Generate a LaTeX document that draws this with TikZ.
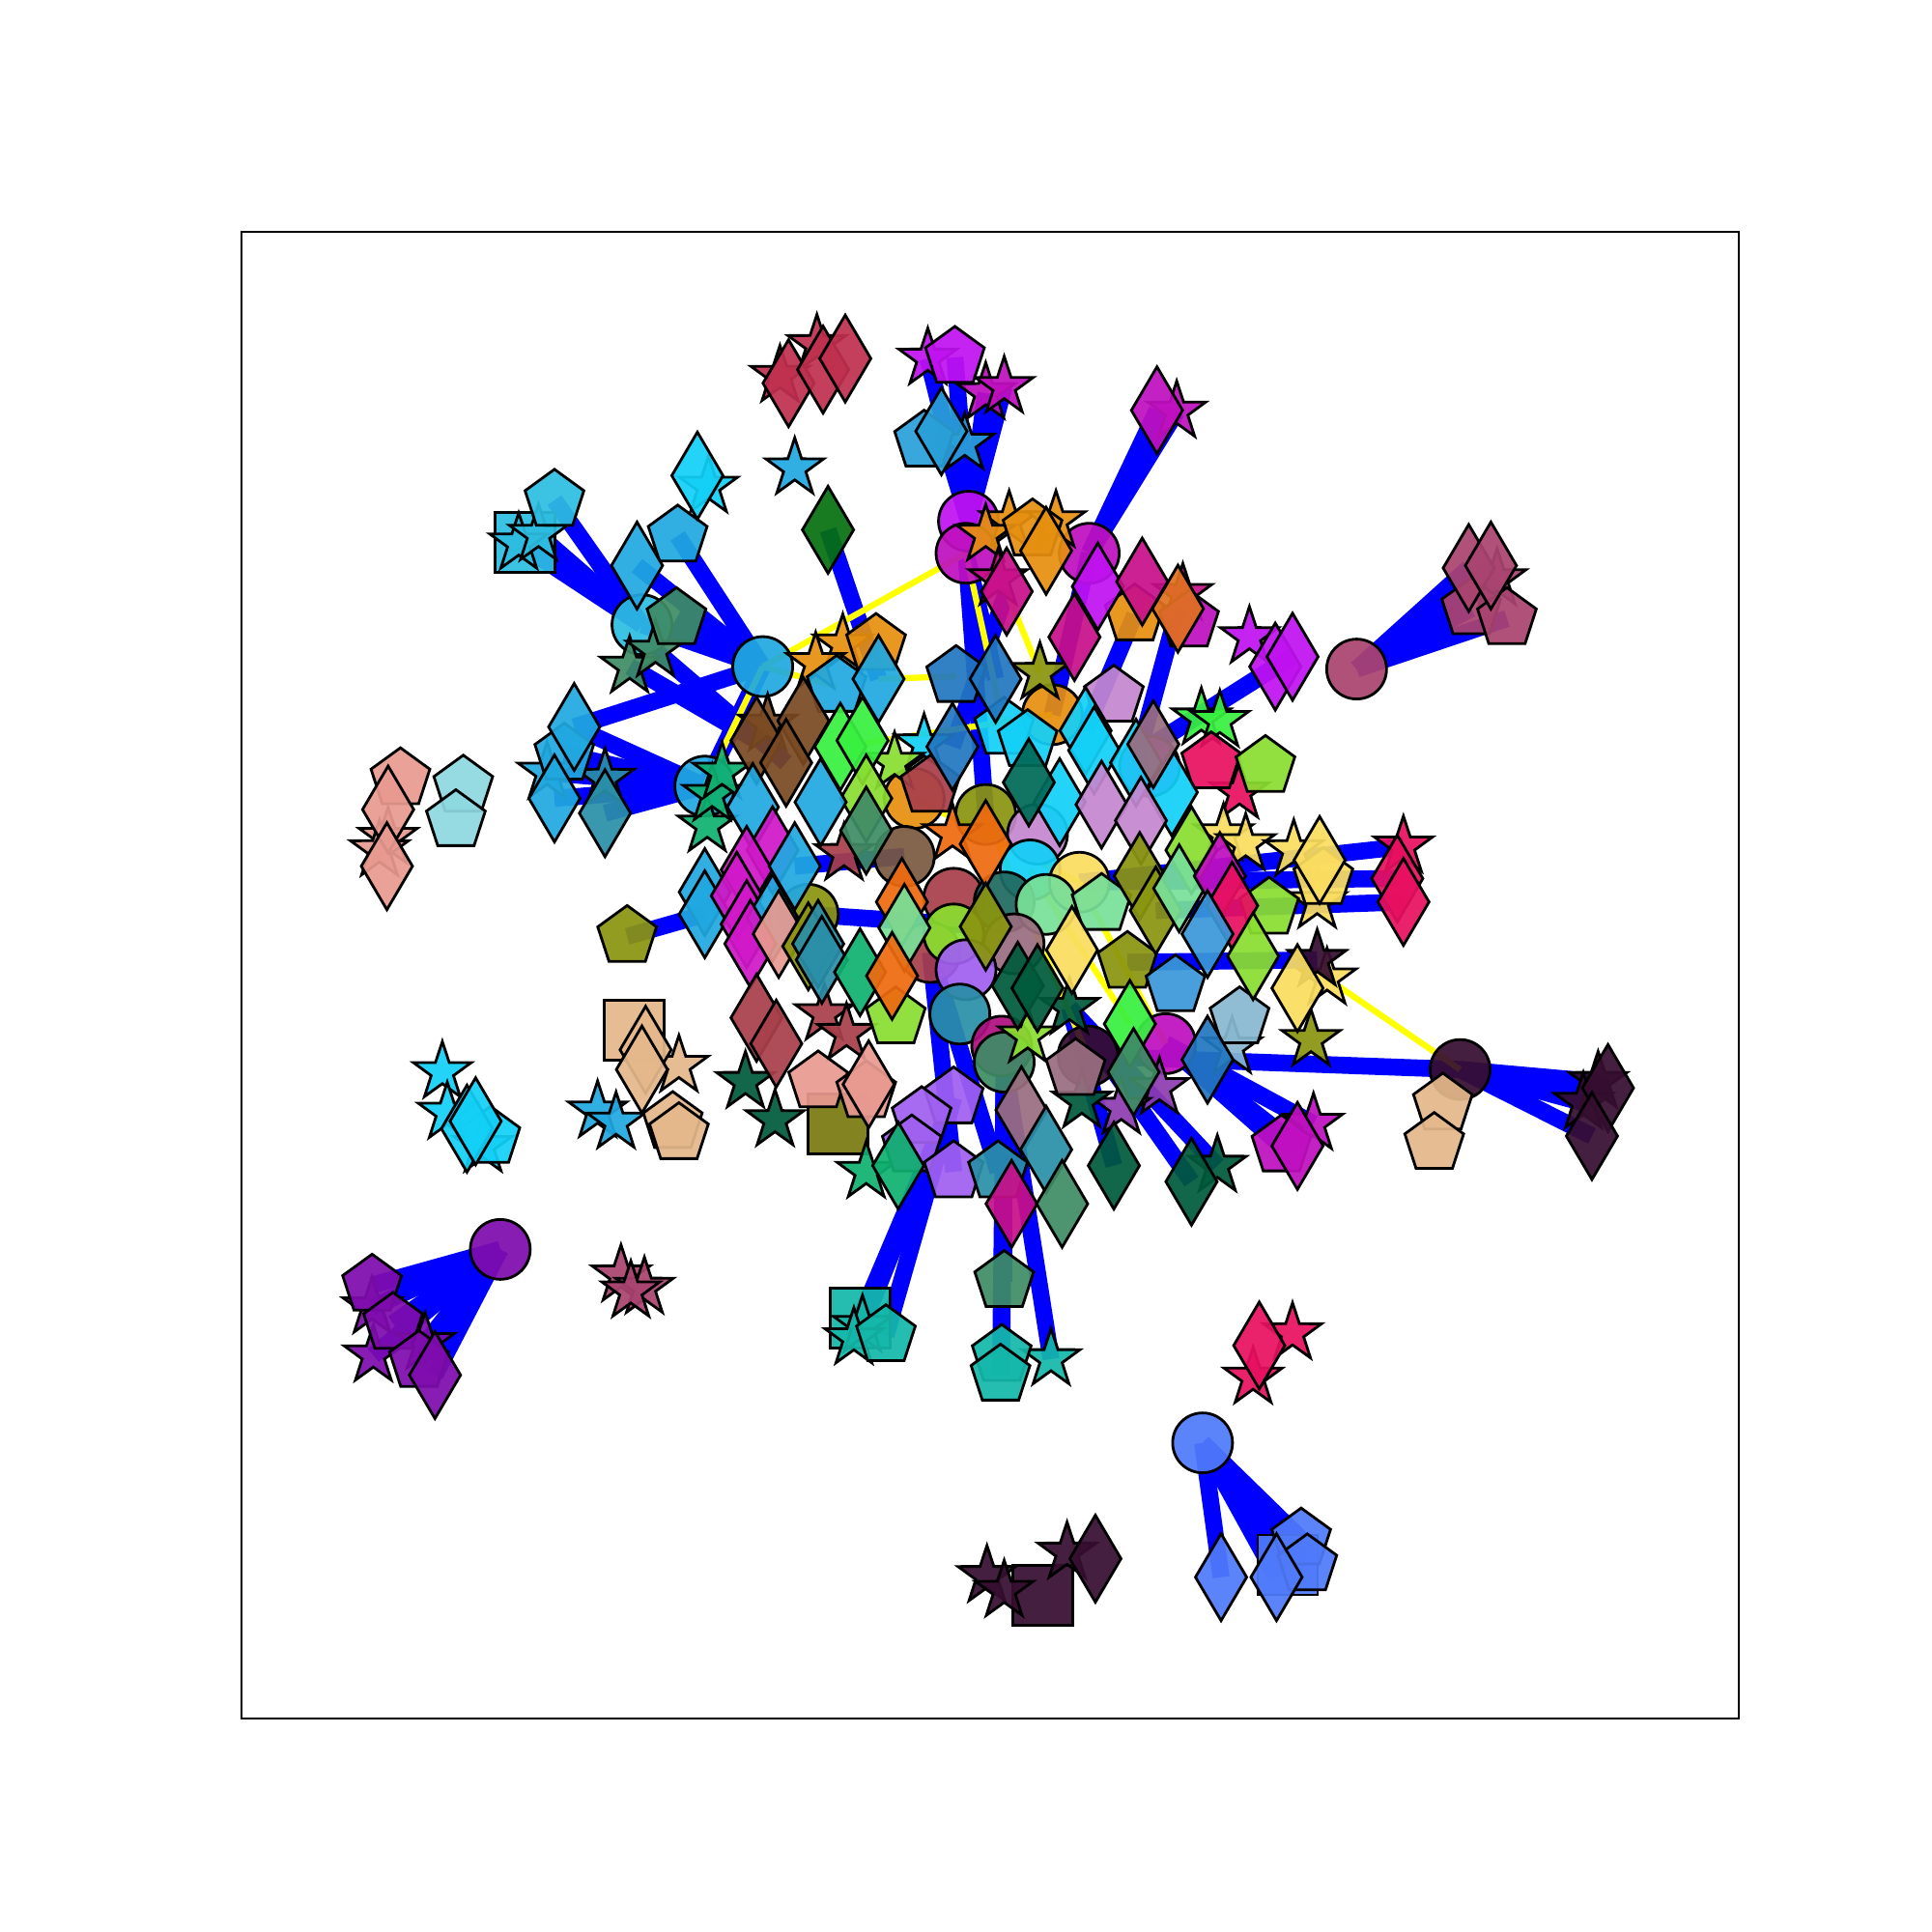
\documentclass[tikz,border=0pt]{standalone}
\usepackage{tikz}
\usetikzlibrary{shapes.geometric}
\definecolor{skyb}{HTML}{21A8E0}
\definecolor{cyanb}{HTML}{2DBDE0}
\definecolor{brcyan}{HTML}{13D0F7}
\definecolor{crim}{HTML}{C0304F}
\definecolor{violt}{HTML}{C012F0}
\definecolor{magt}{HTML}{C010C0}
\definecolor{magt2}{HTML}{D018C8}
\definecolor{dpink}{HTML}{C8108A}
\definecolor{dpink2}{HTML}{B01080}
\definecolor{orng}{HTML}{E69010}
\definecolor{orng2}{HTML}{E07020}
\definecolor{orred}{HTML}{EE6A10}
\definecolor{steelb}{HTML}{2277C0}
\definecolor{steel2}{HTML}{2AA0D8}
\definecolor{olv}{HTML}{8A9510}
\definecolor{olvdk}{HTML}{7A7A10}
\definecolor{lilac}{HTML}{C488D0}
\definecolor{mauve}{HTML}{9A6E80}
\definecolor{lgrn}{HTML}{38F040}
\definecolor{ygrn}{HTML}{8ADE30}
\definecolor{crred}{HTML}{E81060}
\definecolor{yelw}{HTML}{FADD60}
\definecolor{dkpur}{HTML}{360E30}
\definecolor{tanc}{HTML}{E4B88A}
\definecolor{salm}{HTML}{E89A90}
\definecolor{lcyan}{HTML}{8ED8E0}
\definecolor{tealb}{HTML}{2A8FA8}
\definecolor{jade}{HTML}{10B070}
\definecolor{dkgrn}{HTML}{005A3C}
\definecolor{dkgrn2}{HTML}{067010}
\definecolor{brick}{HTML}{A8404A}
\definecolor{brwn}{HTML}{7A4A22}
\definecolor{brwnc}{HTML}{7A5A40}
\definecolor{seagr}{HTML}{3F8C66}
\definecolor{mint}{HTML}{78E098}
\definecolor{purp}{HTML}{7F0CAE}
\definecolor{purp2}{HTML}{8E3CB0}
\definecolor{marn}{HTML}{AA4470}
\definecolor{royal}{HTML}{4F7AFA}
\definecolor{tealg}{HTML}{14B8AA}
\definecolor{dkteal}{HTML}{206A60}
\definecolor{dkteal2}{HTML}{006A58}
\definecolor{lavnd}{HTML}{A060F0}
\definecolor{lsteel}{HTML}{88B8D0}
\definecolor{blue2}{HTML}{3A98D8}
\definecolor{edgeblue}{HTML}{0000FF}
\definecolor{edgeyel}{HTML}{FFFF00}
\pgfdeclarelayer{edges}
\pgfsetlayers{edges,main}

\begin{document}
\begin{tikzpicture}[x=0.012755cm, y=-0.012755cm,
  nd/.style={draw=black, line width=0.8pt, fill opacity=0.93, inner sep=0pt, outer sep=0pt},
  circ/.style={nd, circle, minimum size=0.62cm},
  sqr/.style={nd, rectangle, minimum size=0.62cm},
  stn/.style={nd, star, star points=5, star point ratio=2.6, minimum size=0.63cm},
  pent/.style={nd, regular polygon, regular polygon sides=5, minimum size=0.64cm},
  dia/.style={nd, diamond, minimum width=0.53cm, minimum height=0.9cm},
  bl/.style={edgeblue, line width=5pt},
  yl/.style={edgeyel, line width=1.8pt}]
  \useasboundingbox (0,0) rectangle (1568,1568);
  \draw[line width=0.5pt] (196,188) rectangle (1411,1395);

  % circles
  \node[circ, fill=skyb] (hubsky) at (619,541) {};
  \node[circ, fill=cyanb] (hubcy) at (521,507) {};
  \node[circ, fill=skyb] (hubsk2) at (572,638) {};
  \node[circ, fill=violt] (cv1) at (786,423) {};
  \node[circ, fill=magt] (cm1) at (784,449) {};
  \node[circ, fill=magt] (cm2) at (884,449) {};
  \node[circ, fill=marn] (hubmar) at (1101,543) {};
  \node[circ, fill=purp] (hubpur) at (406,1014) {};
  \node[circ, fill=dkpur] (hubdp) at (1185,868) {};
  \node[circ, fill=royal] (hubroy) at (976,1171) {};
  \node[circ, fill=orng] (co1) at (742,648) {};
  \node[circ, fill=orng] (co2) at (854,580) {};
  \node[circ, fill=olv] (col1) at (800,661) {};
  \node[circ, fill=olv] (col2) at (656,742) {};
  \node[circ, fill=brwnc] (cbr1) at (734,695) {};
  \node[circ, fill=lilac] (cli1) at (842,677) {};
  \node[circ, fill=brcyan] (ccy1) at (836,706) {};
  \node[circ, fill=yelw] (cye1) at (876,716) {};
  \node[circ, fill=brick] (cbk1) at (774,729) {};
  \node[circ, fill=dkteal] (cdt1) at (815,732) {};
  \node[circ, fill=mint] (cmi1) at (849,734) {};
  \node[circ, fill=brick] (cbk2) at (755,773) {};
  \node[circ, fill=ygrn] (cyg1) at (774,758) {};
  \node[circ, fill=mauve] (cma1) at (823,766) {};
  \node[circ, fill=lavnd] (clv1) at (784,787) {};
  \node[circ, fill=tealb] (ctl1) at (779,823) {};
  \node[circ, fill=dpink2] (cdp1) at (813,849) {};
  \node[circ, fill=seagr] (csg1) at (815,862) {};
  \node[circ, fill=dkpur] (cdp2) at (883,857) {};
  \node[circ, fill=magt] (cmg1) at (946,847) {};
  \node[circ, fill=violt] (cmg2) at (933,622) {};

  % squares
  \node[sqr, fill=cyanb] (sq1) at (426,440) {};
  \node[sqr, fill=tanc] (sq2) at (515,836) {};
  \node[sqr, fill=tealg] (sq3) at (698,1070) {};
  \node[sqr, fill=dkpur] (sq4) at (846,1295) {};
  \node[sqr, fill=royal] (sq5) at (1045,1270) {};
  \node[sqr, fill=olvdk] (sq6) at (680,912) {};

  % stars
  \node[stn, fill=cyanb] (st1) at (421,441) {};
  \node[stn, fill=cyanb] (st2) at (437,434) {};
  \node[stn, fill=brcyan] (st3) at (575,395) {};
  \node[stn, fill=skyb] (st4) at (645,380) {};
  \node[stn, fill=seagr] (st5) at (511,541) {};
  \node[stn, fill=seagr] (st6) at (532,528) {};
  \node[stn, fill=skyb] (st7) at (444,627) {};
  \node[stn, fill=tealb] (st8) at (491,632) {};
  \node[stn, fill=jade] (sj1) at (574,670) {};
  \node[stn, fill=jade] (sj2) at (578,645) {};
  \node[stn, fill=jade] (sj3) at (586,627) {};
  \node[stn, fill=salm] (ss1) at (315,680) {};
  \node[stn, fill=salm] (ss2) at (308,690) {};
  \node[stn, fill=brcyan] (sc1) at (359,870) {};
  \node[stn, fill=brcyan] (sc2) at (363,903) {};
  \node[stn, fill=brcyan] (sc3) at (392,930) {};
  \node[stn, fill=tanc] (stn1) at (551,865) {};
  \node[stn, fill=skyb] (sb1) at (485,902) {};
  \node[stn, fill=skyb] (sb2) at (500,911) {};
  \node[stn, fill=purp] (sp1) at (302,1061) {};
  \node[stn, fill=purp] (sp2) at (303,1100) {};
  \node[stn, fill=purp] (sp3) at (345,1090) {};
  \node[stn, fill=marn] (smr1) at (504,1035) {};
  \node[stn, fill=marn] (smr2) at (523,1045) {};
  \node[stn, fill=marn] (smr3) at (512,1048) {};
  \node[stn, fill=marn] (smr4) at (1215,470) {};
  \node[stn, fill=crim] (scr1) at (633,305) {};
  \node[stn, fill=crim] (scr2) at (663,280) {};
  \node[stn, fill=violt] (sv1) at (753,291) {};
  \node[stn, fill=magt] (sm1) at (800,319) {};
  \node[stn, fill=magt] (sm2) at (815,314) {};
  \node[stn, fill=steel2] (sst1) at (783,360) {};
  \node[stn, fill=orng] (so1) at (819,423) {};
  \node[stn, fill=orng] (so2) at (857,423) {};
  \node[stn, fill=orng] (so3) at (800,434) {};
  \node[stn, fill=dpink] (sdp1) at (810,470) {};
  \node[stn, fill=dpink] (sdp2) at (960,482) {};
  \node[stn, fill=magt] (sm3) at (955,334) {};
  \node[stn, fill=violt] (sv2) at (1014,517) {};
  \node[stn, fill=orng] (so4) at (684,523) {};
  \node[stn, fill=orng] (so5) at (662,538) {};
  \node[stn, fill=olv] (sol1) at (844,546) {};
  \node[stn, fill=brcyan] (sbc1) at (750,604) {};
  \node[stn, fill=ygrn] (syg1) at (726,619) {};
  \node[stn, fill=orred] (sor1) at (773,677) {};
  \node[stn, fill=brick] (sbr1) at (685,693) {};
  \node[stn, fill=brwn] (sbr2) at (623,588) {};
  \node[stn, fill=lgrn] (slg1) at (975,583) {};
  \node[stn, fill=lgrn] (slg2) at (990,585) {};
  \node[stn, fill=crred] (scr3) at (1006,643) {};
  \node[stn, fill=yelw] (sy1) at (993,677) {};
  \node[stn, fill=yelw] (sy2) at (1011,685) {};
  \node[stn, fill=yelw] (sy3) at (1050,690) {};
  \node[stn, fill=yelw] (sy4) at (1069,732) {};
  \node[stn, fill=yelw] (sy5) at (1077,794) {};
  \node[stn, fill=crred] (scr5) at (1139,687) {};
  \node[stn, fill=dkpur] (sdp3) at (1069,779) {};
  \node[stn, fill=olv] (sol2) at (1064,844) {};
  \node[stn, fill=lsteel] (sls1) at (1000,850) {};
  \node[stn, fill=magt] (sm4) at (1066,912) {};
  \node[stn, fill=dkpur] (sdk1) at (1297,878) {};
  \node[stn, fill=dkpur] (sdk2) at (1285,895) {};
  \node[stn, fill=dkgrn] (sdg1) at (868,818) {};
  \node[stn, fill=ygrn] (syg2) at (834,841) {};
  \node[stn, fill=purp2] (spu1) at (941,883) {};
  \node[stn, fill=purp2] (spu2) at (910,899) {};
  \node[stn, fill=brick] (sbk1) at (669,823) {};
  \node[stn, fill=brick] (sbk2) at (687,839) {};
  \node[stn, fill=dkgrn] (sdg2) at (878,894) {};
  \node[stn, fill=jade] (sjd1) at (703,951) {};
  \node[stn, fill=dkgrn] (sdg3) at (988,946) {};
  \node[stn, fill=dkgrn] (sdg5) at (605,878) {};
  \node[stn, fill=dkgrn] (sdg6) at (629,909) {};
  \node[stn, fill=tealg] (stg1) at (700,1076) {};
  \node[stn, fill=tealg] (stg2) at (693,1086) {};
  \node[stn, fill=tealg] (stg3) at (853,1103) {};
  \node[stn, fill=dkpur] (sdk3) at (801,1279) {};
  \node[stn, fill=dkpur] (sdk4) at (815,1291) {};
  \node[stn, fill=dkpur] (sdk5) at (866,1260) {};
  \node[stn, fill=crred] (scr6) at (1049,1082) {};
  \node[stn, fill=crred] (scr7) at (1017,1118) {};

  % pentagons
  \node[pent, fill=cyanb] (pe1) at (450,406) {};
  \node[pent, fill=skyb] (pe2) at (550,435) {};
  \node[pent, fill=seagr] (pe3) at (549,502) {};
  \node[pent, fill=skyb] (pe4) at (458,612) {};
  \node[pent, fill=salm] (pe5) at (325,632) {};
  \node[pent, fill=lcyan] (pe6) at (376,638) {};
  \node[pent, fill=lcyan] (pe7) at (370,666) {};
  \node[pent, fill=brcyan] (pe8) at (398,923) {};
  \node[pent, fill=tanc] (pe9) at (546,911) {};
  \node[pent, fill=tanc] (pe10) at (551,920) {};
  \node[pent, fill=olv] (pe11) at (509,760) {};
  \node[pent, fill=purp] (pe12) at (302,1043) {};
  \node[pent, fill=purp] (pe13) at (319,1074) {};
  \node[pent, fill=purp] (pe14) at (340,1105) {};
  \node[pent, fill=violt] (pv1) at (775,290) {};
  \node[pent, fill=steel2] (pst1) at (750,358) {};
  \node[pent, fill=orng] (po1) at (838,430) {};
  \node[pent, fill=orng] (po2) at (921,499) {};
  \node[pent, fill=magt] (pm1) at (965,504) {};
  \node[pent, fill=marn] (pmr1) at (1194,494) {};
  \node[pent, fill=marn] (pmr2) at (1223,502) {};
  \node[pent, fill=orng] (po3) at (711,523) {};
  \node[pent, fill=skyb] (psk1) at (679,557) {};
  \node[pent, fill=steelb] (psb1) at (776,549) {};
  \node[pent, fill=lilac] (pli1) at (904,565) {};
  \node[pent, fill=brcyan] (pcy1) at (815,591) {};
  \node[pent, fill=brcyan] (pcy2) at (834,601) {};
  \node[pent, fill=crred] (pcr1) at (983,619) {};
  \node[pent, fill=ygrn] (pyg1) at (1027,622) {};
  \node[pent, fill=brick] (pbk1) at (755,638) {};
  \node[pent, fill=mint] (pmi1) at (894,734) {};
  \node[pent, fill=olv] (pol1) at (915,781) {};
  \node[pent, fill=blue2] (pbl1) at (954,800) {};
  \node[pent, fill=yelw] (pye1) at (1074,713) {};
  \node[pent, fill=ygrn] (pyg2) at (1030,737) {};
  \node[pent, fill=lsteel] (pls1) at (1006,826) {};
  \node[pent, fill=mauve] (pma1) at (873,868) {};
  \node[pent, fill=ygrn] (pyg3) at (727,826) {};
  \node[pent, fill=salm] (psa1) at (664,878) {};
  \node[pent, fill=salm] (psa2) at (703,886) {};
  \node[pent, fill=lavnd] (plv1) at (774,891) {};
  \node[pent, fill=lavnd] (plv2) at (748,907) {};
  \node[pent, fill=lavnd] (plv4) at (740,930) {};
  \node[pent, fill=lavnd] (plv3) at (774,951) {};
  \node[pent, fill=tealb] (ptl1) at (810,951) {};
  \node[pent, fill=magt] (pmg1) at (1040,930) {};
  \node[pent, fill=tanc] (ptn1) at (1171,896) {};
  \node[pent, fill=tanc] (ptn2) at (1164,928) {};
  \node[pent, fill=tealg] (ptg1) at (719,1084) {};
  \node[pent, fill=seagr] (psg1) at (815,1040) {};
  \node[pent, fill=tealg] (ptg2) at (813,1100) {};
  \node[pent, fill=tealg] (ptg3) at (812,1116) {};
  \node[pent, fill=royal] (proy1) at (1056,1249) {};
  \node[pent, fill=royal] (proy2) at (1061,1270) {};

  % diamonds
  \node[dia, fill=skyb] (di1) at (517,459) {};
  \node[dia, fill=brcyan] (di2) at (566,386) {};
  \node[dia, fill=skyb] (di3) at (466,590) {};
  \node[dia, fill=skyb] (di4) at (450,648) {};
  \node[dia, fill=tealb] (di5) at (491,660) {};
  \node[dia, fill=salm] (di6) at (315,657) {};
  \node[dia, fill=salm] (di7) at (314,703) {};
  \node[dia, fill=brcyan] (di8) at (379,916) {};
  \node[dia, fill=brcyan] (di8b) at (386,910) {};
  \node[dia, fill=tanc] (di9) at (524,852) {};
  \node[dia, fill=tanc] (di10) at (521,868) {};
  \node[dia, fill=skyb] (di12) at (572,724) {};
  \node[dia, fill=skyb] (di11) at (572,742) {};
  \node[dia, fill=purp] (di13) at (353,1116) {};
  \node[dia, fill=crim] (dcr1) at (640,311) {};
  \node[dia, fill=crim] (dcr2) at (668,300) {};
  \node[dia, fill=crim] (dcr3) at (686,291) {};
  \node[dia, fill=steel2] (dst1) at (764,350) {};
  \node[dia, fill=dkgrn2] (dgn1) at (672,430) {};
  \node[dia, fill=orng] (dor1) at (849,447) {};
  \node[dia, fill=dpink] (ddp1) at (817,480) {};
  \node[dia, fill=violt] (dvi1) at (891,476) {};
  \node[dia, fill=dpink] (ddp2) at (927,472) {};
  \node[dia, fill=orng2] (dor2) at (956,494) {};
  \node[dia, fill=dpink] (ddp3) at (872,517) {};
  \node[dia, fill=magt] (dmg1) at (939,333) {};
  \node[dia, fill=marn] (dmr1) at (1192,461) {};
  \node[dia, fill=marn] (dmr2) at (1210,459) {};
  \node[dia, fill=violt] (dvi2) at (1035,541) {};
  \node[dia, fill=violt] (dvi3) at (1049,533) {};
  \node[dia, fill=skyb] (dsk1) at (713,551) {};
  \node[dia, fill=steelb] (dsb1) at (808,551) {};
  \node[dia, fill=brwn] (dbn3) at (614,601) {};
  \node[dia, fill=brwn] (dbn1) at (652,585) {};
  \node[dia, fill=brwn] (dbn2) at (638,619) {};
  \node[dia, fill=lgrn] (dlg1) at (682,606) {};
  \node[dia, fill=lgrn] (dlg2) at (700,601) {};
  \node[dia, fill=steelb] (dsb2) at (773,606) {};
  \node[dia, fill=brcyan] (dcy1) at (881,593) {};
  \node[dia, fill=brcyan] (dcy2) at (888,609) {};
  \node[dia, fill=brcyan] (dcy3) at (922,619) {};
  \node[dia, fill=brcyan] (dcy4) at (951,643) {};
  \node[dia, fill=brcyan] (dcy5) at (860,651) {};
  \node[dia, fill=mauve] (dma1) at (936,604) {};
  \node[dia, fill=dkteal2] (ddt1) at (835,635) {};
  \node[dia, fill=lilac] (dli1) at (894,653) {};
  \node[dia, fill=lilac] (dli2) at (926,666) {};
  \node[dia, fill=skyb] (dsk3) at (611,655) {};
  \node[dia, fill=ygrn] (dyg1) at (703,648) {};
  \node[dia, fill=skyb] (dsk2) at (666,651) {};
  \node[dia, fill=seagr] (dsg1) at (703,674) {};
  \node[dia, fill=orred] (dor3) at (800,685) {};
  \node[dia, fill=magt2] (dm2a) at (627,690) {};
  \node[dia, fill=magt2] (dm2b) at (606,706) {};
  \node[dia, fill=skyb] (dsk4) at (645,703) {};
  \node[dia, fill=magt2] (dm2c) at (598,727) {};
  \node[dia, fill=magt2] (dm2d) at (606,750) {};
  \node[dia, fill=skyb] (dsk5) at (627,745) {};
  \node[dia, fill=magt2] (dm2e) at (609,766) {};
  \node[dia, fill=salm] (dsa2) at (632,758) {};
  \node[dia, fill=olv] (dol4) at (656,768) {};
  \node[dia, fill=tealb] (dtl3) at (664,766) {};
  \node[dia, fill=orred] (dor4) at (732,732) {};
  \node[dia, fill=mint] (dmi1) at (734,753) {};
  \node[dia, fill=olv] (dol1) at (800,752) {};
  \node[dia, fill=olv] (dol2) at (925,711) {};
  \node[dia, fill=olv] (dol3) at (938,739) {};
  \node[dia, fill=yelw] (dye1) at (870,771) {};
  \node[dia, fill=ygrn] (dyg2) at (967,690) {};
  \node[dia, fill=mint] (dmi2) at (957,721) {};
  \node[dia, fill=magt] (dmg2) at (990,711) {};
  \node[dia, fill=crred] (dcr6) at (1000,735) {};
  \node[dia, fill=blue2] (dbl1) at (980,758) {};
  \node[dia, fill=ygrn] (dyg3) at (1017,776) {};
  \node[dia, fill=yelw] (dye2) at (1071,698) {};
  \node[dia, fill=yelw] (dye3) at (1053,802) {};
  \node[dia, fill=crred] (dcr4) at (1134,713) {};
  \node[dia, fill=crred] (dcr5) at (1139,732) {};
  \node[dia, fill=dkgrn] (ddg1) at (826,800) {};
  \node[dia, fill=dkgrn] (ddg2) at (842,802) {};
  \node[dia, fill=lgrn] (dlg3) at (917,831) {};
  \node[dia, fill=seagr] (dsg2) at (920,870) {};
  \node[dia, fill=steelb] (dsb3) at (980,860) {};
  \node[dia, fill=tealb] (dtl1) at (667,779) {};
  \node[dia, fill=jade] (djd1) at (698,789) {};
  \node[dia, fill=orred] (dor5) at (724,792) {};
  \node[dia, fill=brick] (dbk1) at (614,826) {};
  \node[dia, fill=brick] (dbk2) at (630,847) {};
  \node[dia, fill=salm] (dsa1) at (705,880) {};
  \node[dia, fill=mauve] (dma2) at (829,901) {};
  \node[dia, fill=tealb] (dtl2) at (849,933) {};
  \node[dia, fill=dkgrn] (ddg3) at (904,946) {};
  \node[dia, fill=jade] (djd2) at (729,946) {};
  \node[dia, fill=dkgrn] (ddg4) at (967,959) {};
  \node[dia, fill=dpink] (ddp4) at (821,977) {};
  \node[dia, fill=seagr] (dsg3) at (862,977) {};
  \node[dia, fill=dkpur] (ddk1) at (1305,883) {};
  \node[dia, fill=dkpur] (ddk2) at (1292,922) {};
  \node[dia, fill=magt] (dmg3) at (1053,930) {};
  \node[dia, fill=crred] (dcr7) at (1022,1092) {};
  \node[dia, fill=royal] (droy1) at (991,1280) {};
  \node[dia, fill=royal] (droy2) at (1036,1280) {};
  \node[dia, fill=dkpur] (ddk3) at (889,1265) {};

  \begin{pgfonlayer}{edges}
    % hubs
    \foreach \t in {di1,pe2,hubcy,pe3,di3,hubsk2} \draw[bl] (hubsky.center) -- (\t.center);
    \foreach \t in {sq1,st1,st2,pe1} \draw[bl] (hubcy.center) -- (\t.center);
    \foreach \t in {di3,pe4,st7,di4,di5,st8} \draw[bl] (hubsk2.center) -- (\t.center);
    \foreach \t in {sv1,pv1,sm1,sm2,dst1} \draw[bl] (cv1.center) -- (\t.center);
    \foreach \t in {dmg1,sm3,co2} \draw[bl] (cm2.center) -- (\t.center);
    \foreach \t in {dmr1,dmr2,pmr1,pmr2,smr4} \draw[bl] (hubmar.center) -- (\t.center);
    \foreach \t in {ddk1,ddk2,sdk1,sdk2,cdp2} \draw[bl] (hubdp.center) -- (\t.center);
    \foreach \t in {droy1,droy2,proy1,proy2,sq5} \draw[bl] (hubroy.center) -- (\t.center);
    \foreach \t in {pe12,pe13,sp1,sp2,pe14,di13,sp3} \draw[bl] (hubpur.center) -- (\t.center);
    \foreach \t in {pmg1,dmg3,sm4} \draw[bl] (cmg1.center) -- (\t.center);
    \foreach \t in {sq3,stg1,stg2,ptg1} \draw[bl] (plv1.center) -- (\t.center);
    \foreach \t in {psg1,ptg2,ptg3} \draw[bl] (csg1.center) -- (\t.center);
    \foreach \t in {ddg3,ddg4,sdg3} \draw[bl] (sdg1.center) -- (\t.center);
    % the rest
    \draw[bl] (pe11.center) -- (di11.center);
    \draw[bl] (cm1.center) -- (dsb1.center);
    \draw[bl] (cm1.center) -- (col1.center);
    \draw[bl] (ddp1.center) -- (dsb2.center);
    \draw[bl] (po2.center) -- (dcy1.center);
    \draw[bl] (dor2.center) -- (dcy3.center);
    \draw[bl] (dvi2.center) -- (dma1.center);
    \draw[bl] (dvi3.center) -- (dma1.center);
    \draw[bl] (cye1.center) -- (scr5.center);
    \draw[bl] (cye1.center) -- (dcr4.center);
    \draw[bl] (dol3.center) -- (dcr5.center);
    \draw[bl] (pol1.center) -- (sdp3.center);
    \draw[bl] (cdp1.center) -- (stg3.center);
    \draw[bl] (dgn1.center) -- (dsk1.center);
    \draw[bl] (st5.center) -- (dbn3.center);
    \draw[bl] (st6.center) -- (dbn2.center);
    \draw[bl] (col2.center) -- (dol1.center);
    \draw[bl] (dsk4.center) -- (cbr1.center);
    \draw[bl] (cbk2.center) -- (ptl1.center);
    \draw[bl] (cbk2.center) -- (plv3.center);
    % yellow
    \draw[yl] (hubsky.center) -- (cm1.center);
    \draw[yl] (hubsky.center) -- (hubsk2.center);
    \draw[yl] (hubsky.center) -- (psk1.center);
    \draw[yl] (cm1.center) -- (pcy1.center);
    \draw[yl] (dsk1.center) -- (psb1.center);
    \draw[yl] (dlg1.center) -- (co2.center);
    \draw[yl] (ddp1.center) -- (sol1.center);
    \draw[yl] (co1.center) -- (cye1.center);
    \draw[yl] (col1.center) -- (cdp2.center);
    \draw[yl] (cye1.center) -- (cmg1.center);
    \draw[yl] (ccy1.center) -- (dlg3.center);
    \draw[yl] (hubdp.center) -- (sy5.center);
  \end{pgfonlayer}
\end{tikzpicture}
\end{document}
